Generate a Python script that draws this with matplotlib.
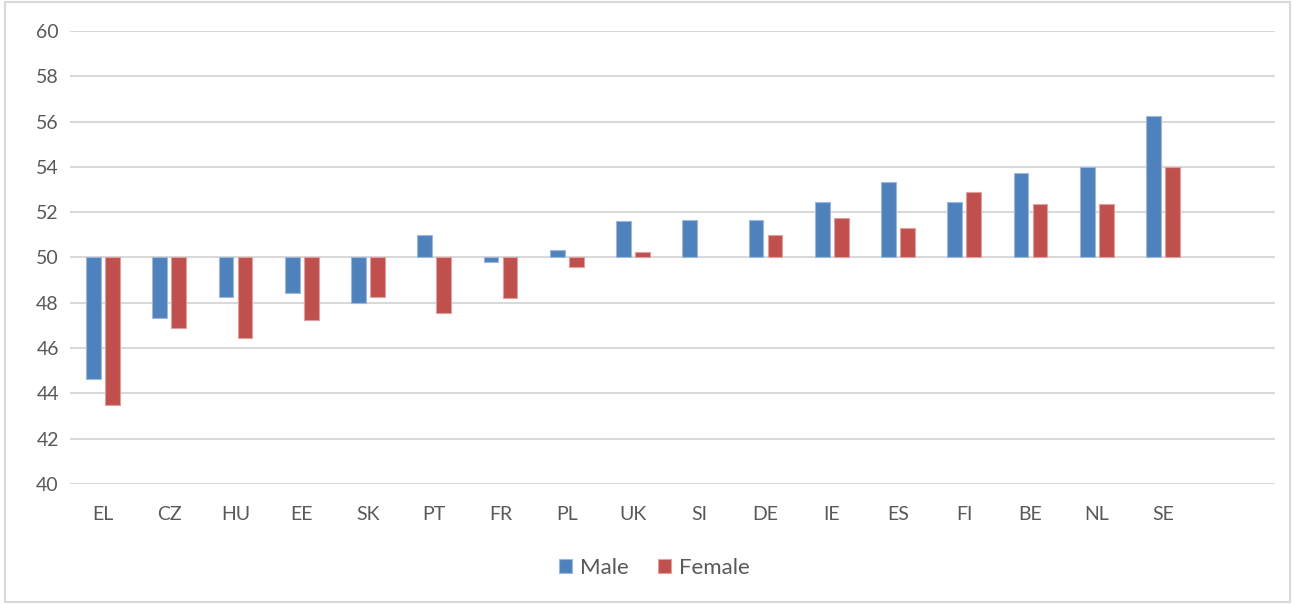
import matplotlib
matplotlib.use("Agg")
import matplotlib.pyplot as plt
from matplotlib.patches import Rectangle
import numpy as np

countries = ["EL", "CZ", "HU", "EE", "SK", "PT", "FR", "PL", "UK", "SI",
             "DE", "IE", "ES", "FI", "BE", "NL", "SE"]
male = [44.63, 47.32, 48.25, 48.45, 48.0, 51.0, 49.82, 50.34, 51.62, 51.64,
        51.67, 52.44, 53.32, 52.44, 53.72, 53.98, 56.24]
female = [43.48, 46.88, 46.43, 47.26, 48.25, 47.54, 48.19, 49.57, 50.25, 50.0,
          51.0, 51.76, 51.29, 52.9, 52.34, 52.38, 53.98]
y_ticks = [40, 42, 44, 46, 48, 50, 52, 54, 56, 58, 60]
base = 50

plt.rcParams["font.family"] = ["Lato", "DejaVu Sans"]

fig = plt.figure(figsize=(12.93, 6.04), dpi=100)
ax = fig.add_axes([0.0541, 0.1987, 0.9319, 0.75])

x = np.arange(len(countries))
w = 0.222
off = 0.143
blue = "#4F81BD"
red = "#C0504D"


def draw(vals, dx, color, edge, label):
    h = np.array(vals) - base
    lw = [0.0 if v == 0 else 0.8 for v in h]
    ax.bar(x + dx, h, bottom=base, width=w, color=color, edgecolor=edge,
           linewidth=lw, label=label, zorder=3)


draw(male, -off, blue, "#9DB8DB", "Male")
draw(female, off, red, "#DFA09E", "Female")

ax.set_ylim(40, 60)
ax.set_xlim(-0.5, 17.69)
ax.set_yticks(y_ticks)
ax.set_xticks(x)
ax.set_xticklabels(countries)
ax.grid(axis="y", color="#D9D9D9", linewidth=1.5, zorder=0)
ax.set_axisbelow(True)
for s in ax.spines.values():
    s.set_visible(False)
ax.tick_params(axis="both", length=0, colors="#595959", labelsize=14)
ax.tick_params(axis="x", pad=16)
ax.tick_params(axis="y", pad=8)

leg = fig.legend(loc="center", bbox_to_anchor=(0.506, 0.0596), ncol=2, frameon=False,
                 fontsize=16, handlelength=0.6, handleheight=0.6,
                 handletextpad=0.35, columnspacing=1.3)
for t in leg.get_texts():
    t.set_color("#595959")

fig.patches.append(Rectangle((0.004, 0.003), 0.994, 0.994, transform=fig.transFigure,
                             fill=False, edgecolor="#D9D9D9", linewidth=1.5))

fig.savefig("out.png", dpi=100, facecolor="white")
